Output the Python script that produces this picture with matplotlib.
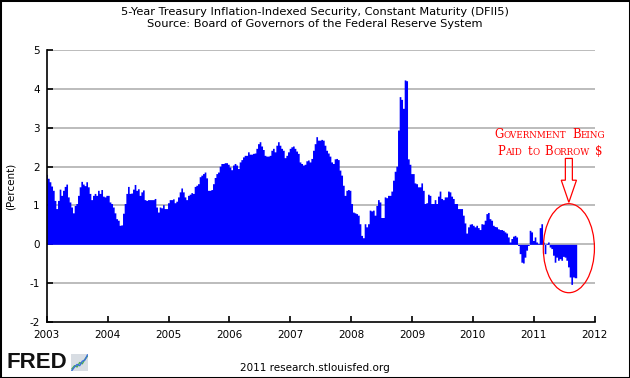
"""
FRED chart: 5-Year TIPS yield (DFII5), 2003-2011, with "paid to borrow" annotation; PNG.
"""

import pandas as pd
import matplotlib
matplotlib.use("Agg")
import matplotlib.pyplot as plt
import matplotlib.dates as mdates
from matplotlib.patches import Ellipse, FancyArrow, Rectangle
from matplotlib.offsetbox import TextArea, HPacker, VPacker, AnnotationBbox

# --- data (one value every 10 days from 2003-01-01) ---
START_DATE = "2003-01-01"
DFII5 = [
    # 2003 - 2005
    1.80, 1.70, 1.61, 1.50, 1.39, 1.13, 0.92, 1.13, 1.42, 1.26,
    1.39, 1.49, 1.55, 1.22, 1.09, 0.96, 0.81, 1.00, 1.05, 1.26,
    1.48, 1.62, 1.55, 1.51, 1.61, 1.48, 1.31, 1.15, 1.26, 1.31,
    1.26, 1.39, 1.31, 1.41, 1.24, 1.22, 1.26, 1.26, 1.09, 1.05,
    0.96, 0.81, 0.66, 0.62, 0.49, 0.50, 0.80, 1.05, 1.31, 1.49,
    1.31, 1.32, 1.42, 1.54, 1.39, 1.43, 1.26, 1.35, 1.40, 1.15,
    1.13, 1.15, 1.15, 1.15, 1.15, 1.18, 0.96, 0.83, 0.96, 0.94,
    1.02, 0.92, 0.92, 1.07, 1.15, 1.15, 1.17, 1.07, 1.11, 1.22,
    # 2005 - 2007
    1.35, 1.45, 1.35, 1.22, 1.15, 1.26, 1.29, 1.33, 1.31, 1.49,
    1.52, 1.56, 1.74, 1.78, 1.82, 1.86, 1.71, 1.39, 1.39, 1.41,
    1.56, 1.72, 1.82, 1.86, 2.01, 2.08, 2.08, 2.10, 2.10, 2.06,
    1.99, 1.92, 2.04, 2.08, 2.04, 1.95, 2.12, 2.18, 2.25, 2.29,
    2.29, 2.38, 2.32, 2.32, 2.34, 2.35, 2.47, 2.59, 2.64, 2.53,
    2.44, 2.29, 2.27, 2.27, 2.29, 2.42, 2.47, 2.38, 2.55, 2.64,
    2.55, 2.47, 2.42, 2.23, 2.29, 2.38, 2.47, 2.51, 2.53, 2.47,
    2.40, 2.34, 2.12, 2.08, 2.04, 2.06, 2.15, 2.17, 2.12, 2.21,
    2.42, 2.59, 2.77, 2.68, 2.68, 2.70, 2.68, 2.55, 2.42, 2.35,
    # late 2007 - 2009
    2.27, 2.12, 2.08, 2.20, 2.21, 2.18, 1.91, 1.78, 1.52, 1.26,
    1.39, 1.41, 1.39, 1.05, 0.83, 0.81, 0.79, 0.75, 0.53, 0.23,
    0.17, 0.53, 0.45, 0.53, 0.88, 0.86, 0.88, 0.75, 1.00, 1.15,
    1.09, 0.69, 0.69, 1.22, 1.20, 1.26, 1.26, 1.37, 1.65, 1.88,
    2.01, 2.94, 3.80, 3.73, 3.50, 4.23, 4.21, 2.20, 2.06, 1.82,
    1.82, 1.58, 1.56, 1.48, 1.48, 1.58, 1.39, 1.05, 1.07, 1.29,
    1.26, 1.05, 1.05, 1.15, 1.05, 1.24, 1.37, 1.18, 1.15, 1.22,
    1.22, 1.37, 1.35, 1.24, 1.18, 1.05, 1.05, 0.92, 0.92, 0.92,
    # 2010 - 2011
    0.75, 0.55, 0.29, 0.45, 0.52, 0.53, 0.49, 0.45, 0.49, 0.43,
    0.38, 0.53, 0.52, 0.62, 0.79, 0.82, 0.66, 0.62, 0.49, 0.46,
    0.45, 0.40, 0.38, 0.38, 0.36, 0.32, 0.29, 0.19, 0.06, 0.15,
    0.21, 0.23, 0.19, -0.03, -0.24, -0.46, -0.48, -0.33, -0.15, -0.03,
    0.36, 0.32, 0.10, 0.19, 0.06, 0.02, 0.43, 0.53, 0.06, -0.24,
    0.02, 0.06, -0.07, -0.11, -0.28, -0.46, -0.33, -0.41, -0.37, -0.41,
    -0.31, -0.33, -0.41, -0.58, -0.84, -1.03, -0.84, -0.86, -0.86,
]

YEARS = list(range(2003, 2013))
Y_TICKS = [-2, -1, 0, 1, 2, 3, 4, 5]

TITLE = ("5-Year Treasury Inflation-Indexed Security, Constant Maturity (DFII5)\n"
         "Source: Board of Governors of the Federal Reserve System")
Y_LABEL = "(Percent)"
FOOTER = "2011 research.stlouisfed.org"
NOTE_LINES = ["Government Being", "Paid to Borrow $"]

# little FRED logo chart
ICON_X = [0, 1, 2, 3, 4, 5, 6]
ICON_GREEN = [1, 2, 1.6, 3, 2.6, 4, 5]
ICON_BLUE = [0.5, 1.6, 2.4, 2.0, 3.4, 3.8, 5.4]

BLUE = "#0000ff"
RED = "#ff0000"
GRID = "#aaaaaa"

plt.rcParams["axes.unicode_minus"] = False


def small_caps_line(text, big=8.4, small=6.3):
    """Строка в стиле small caps: первая буква слова крупнее, остальные прописные мельче."""
    words = []
    for word in text.split(" "):
        parts = [TextArea(word[0], textprops=dict(color=RED, fontsize=big, family="DejaVu Serif"))]
        if len(word) > 1:
            parts.append(TextArea(word[1:].upper(),
                                  textprops=dict(color=RED, fontsize=small, family="DejaVu Serif")))
        words.append(HPacker(children=parts, align="baseline", pad=0, sep=0))
    return HPacker(children=words, align="baseline", pad=0, sep=4)


def main():
    dates = pd.date_range(START_DATE, periods=len(DFII5), freq="10D")
    values = pd.Series(DFII5, index=dates)

    fig = plt.figure(figsize=(6.3, 3.78), dpi=100)
    ax = fig.add_axes([0.0741, 0.148, 0.8696, 0.7197])

    ax.fill_between(values.index, values.values, 0, step="mid", color=BLUE, linewidth=0, zorder=2)

    ax.set_xlim(pd.Timestamp(f"{YEARS[0]}-01-01"), pd.Timestamp(f"{YEARS[-1]}-01-01"))
    ax.set_ylim(Y_TICKS[0], Y_TICKS[-1])
    ax.set_yticks(Y_TICKS)
    ax.set_xticks([pd.Timestamp(f"{y}-01-01") for y in YEARS])
    ax.xaxis.set_major_formatter(mdates.DateFormatter("%Y"))

    for y in Y_TICKS[1:]:
        ax.axhline(y, color=GRID, linewidth=1.1, zorder=1)

    for side in ("top", "right"):
        ax.spines[side].set_visible(False)
    for side in ("left", "bottom"):
        ax.spines[side].set_linewidth(1.2)
        ax.spines[side].set_zorder(3)
    ax.tick_params(axis="both", direction="in", length=4.5, width=1.2, labelsize=7.5)
    ax.tick_params(axis="x", pad=6)
    ax.tick_params(axis="y", pad=5)

    fig.text(0.017, 0.508, Y_LABEL, rotation=90, ha="center", va="center", fontsize=7.5)
    fig.text(0.5, 0.953, TITLE, ha="center", va="center", fontsize=8.2, linespacing=1.3)
    fig.text(0.5, 0.027, FOOTER, ha="center", va="center", fontsize=7.5)
    fig.text(0.010, 0.041, "FRED", ha="left", va="center", fontsize=16,
             fontweight="bold", family="Liberation Sans", color="#111111")

    icon = fig.add_axes([0.113, 0.018, 0.027, 0.045])
    icon.set_facecolor("#d8dde3")
    icon.plot(ICON_X, ICON_GREEN, color="#4caf50", linewidth=1)
    icon.plot(ICON_X, ICON_BLUE, color="#3a6fd8", linewidth=1)
    icon.set_xticks([])
    icon.set_yticks([])
    for s in icon.spines.values():
        s.set_visible(False)

    # annotation: ellipse + hollow arrow + red text
    center = pd.Timestamp("2011-07-31")
    ax.add_patch(Ellipse((mdates.date2num(center), -0.10), 0.84 * 365.25, 2.29,
                         fill=False, edgecolor=RED, linewidth=0.9, clip_on=False, zorder=4))
    ax.add_patch(FancyArrow(mdates.date2num(center), 2.21, 0, -1.13,
                            width=0.115 * 365.25, head_width=0.25 * 365.25, head_length=0.57,
                            length_includes_head=True, fill=False, edgecolor=RED,
                            linewidth=0.9, clip_on=False, zorder=4))

    note = VPacker(children=[small_caps_line(t) for t in NOTE_LINES], align="center", pad=0, sep=3)
    ax.add_artist(AnnotationBbox(note, (0.873, 0.622), xycoords="figure fraction",
                                 frameon=False, box_alignment=(0.5, 0.5), annotation_clip=False))

    fig.patches.append(Rectangle((0, 0), 1, 1, transform=fig.transFigure, fill=False,
                                 edgecolor="black", linewidth=2.2))

    fig.savefig("out.png", dpi=100)
    plt.close(fig)


if __name__ == "__main__":
    main()
